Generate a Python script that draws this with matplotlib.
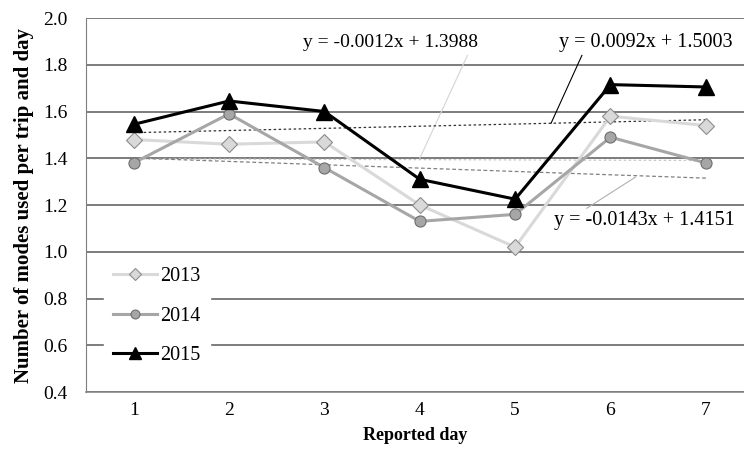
import numpy as np
import matplotlib.pyplot as plt

plt.rcParams['font.family'] = ['Liberation Serif', 'DejaVu Serif']

days = [1, 2, 3, 4, 5, 6, 7]
y2013 = [1.48, 1.46, 1.47, 1.20, 1.02, 1.58, 1.54]
y2014 = [1.38, 1.59, 1.36, 1.13, 1.16, 1.49, 1.38]
y2015 = [1.545, 1.645, 1.60, 1.31, 1.225, 1.715, 1.705]

# trendline coefficients as printed on the chart
trend2013 = (-0.0012, 1.3988)
trend2014 = (-0.0143, 1.4151)
trend2015 = (0.0092, 1.5003)

fig = plt.figure(figsize=(7.44, 4.57), dpi=100)
ax = fig.add_axes([0.1156, 0.1422, 0.8844, 0.8184])

x = np.array(days)
ax.plot(x, trend2013[0] * x + trend2013[1], color='#c8c8c8', lw=0.9, ls=(0, (2, 2)), zorder=2)
ax.plot(x, trend2014[0] * x + trend2014[1], color='#808080', lw=0.9, ls=(0, (3, 2)), zorder=2)
ax.plot(x, trend2015[0] * x + trend2015[1], color='#303030', lw=0.9, ls=(0, (2, 2)), zorder=2)

# leader lines from trendlines to equation labels
ax.plot([4.0, 4.5], [1.40, 1.84], color='#d4d4d4', lw=0.8, zorder=1)
ax.plot([5.377, 5.70], [1.55, 1.84], color='black', lw=0.8, zorder=6)
ax.plot([6.26, 5.75], [1.319, 1.186], color='#b0b0b0', lw=0.8, zorder=6)

l13, = ax.plot(days, y2013, color='#d9d9d9', lw=2.2, marker='D', ms=8,
               mfc='#d9d9d9', mec='#8c8c8c', mew=0.8, zorder=3)
l14, = ax.plot(days, y2014, color='#a6a6a6', lw=2.2, marker='o', ms=8,
               mfc='#a6a6a6', mec='#6e6e6e', mew=0.8, zorder=4)
l15, = ax.plot(days, y2015, color='black', lw=2.2, marker='^', ms=11,
               mfc='black', mec='black', zorder=5)

ax.text(3.69, 1.895, 'y = -0.0012x + 1.3988', fontsize=14, ha='center', va='center')
ax.text(6.37, 1.895, 'y = 0.0092x + 1.5003', fontsize=14.5, ha='center', va='center')
ax.text(6.36, 1.135, 'y = -0.0143x + 1.4151', fontsize=14.5, ha='center', va='center')

ax.set_xlim(0.5, 7.4)
ax.set_ylim(0.4, 2.0)
ax.set_xticks(days)
ax.set_yticks(np.arange(0.4, 2.01, 0.2))
ax.set_yticklabels([f'{v:.1f}' for v in np.arange(0.4, 2.01, 0.2)])
ax.tick_params(labelsize=14, length=0)
ax.tick_params(axis='y', pad=13)
ax.tick_params(axis='x', pad=7)
ax.yaxis.grid(True, color='#595959', lw=1.1)
ax.set_axisbelow(True)
for s in ['top', 'right']:
    ax.spines[s].set_visible(False)
ax.spines['left'].set_color('#7f7f7f')
ax.spines['bottom'].set_color('#7f7f7f')
ax.spines['bottom'].set_linewidth(1.1)

ax.set_xlabel('Reported day', fontsize=13, fontweight='bold', labelpad=6)
ax.set_ylabel('Number of modes used per trip and day', fontsize=15,
              fontweight='bold', labelpad=7)

leg = ax.legend([l13, l14, l15], ['2013', '2014', '2015'], loc='center left',
                bbox_to_anchor=(0.027, 0.203), frameon=True, fontsize=14.5,
                handlelength=2.2, handletextpad=0.15, labelspacing=1.0,
                borderaxespad=0.0, borderpad=0.45, markerscale=0.8)
leg.get_frame().set_edgecolor('white')
leg.get_frame().set_facecolor('white')
leg.get_frame().set_alpha(1)
leg.set_zorder(7)

fig.savefig('out.png', dpi=100)
